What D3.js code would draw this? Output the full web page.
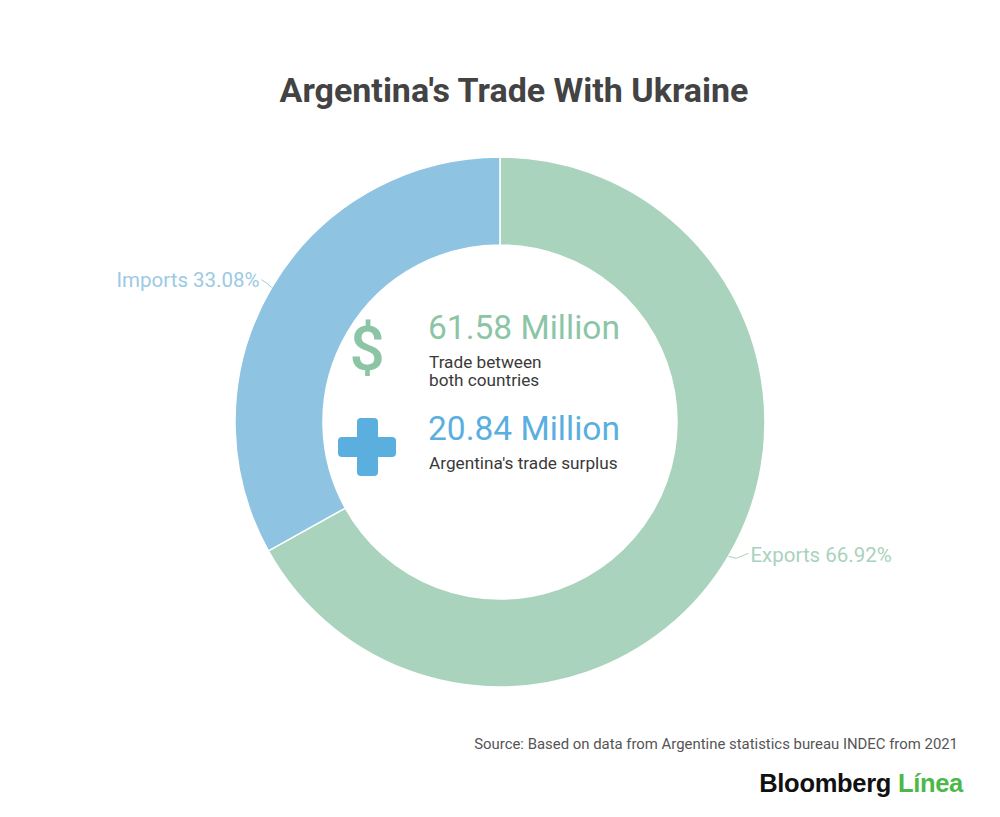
<!DOCTYPE html>
<meta charset="utf-8">
<head>
<script src="https://d3js.org/d3.v7.min.js"></script>
<style>
  body { margin: 0; background: #fff; }
  text { font-family: Roboto, "Noto Sans", sans-serif; }
</style>
</head>
<body>
<div id="donut"></div>
<script>
// data
var categories = ["Exports", "Imports"];
var shares = [66.92, 33.08];
var sliceColors = ["#a9d3bc", "#8ec4e2"];
var labelColors = ["#a9d2bd", "#9ccae3"];

var statValues = ["61.58 Million", "20.84 Million"];
var statNotes = [["Trade between", "both countries"], ["Argentina's trade surplus"]];

var width = 1000, height = 817;
var cx = 500, cy = 422,
    outerR = 265, innerR = 177;

var svg = d3.select("#donut")
  .append("svg")
    .attr("width", width)
    .attr("height", height);

// title
svg.append("text")
  .attr("x", 514)
  .attr("y", 102)
  .attr("text-anchor", "middle")
  .style("font-size", "34px")
  .style("font-weight", "700")
  .style("fill", "#434343")
  .text("Argentina's Trade With Ukraine");

var g = svg.append("g")
  .attr("transform", "translate(" + cx + "," + cy + ")");

var data = categories.map(function(c, i) { return {name: c, value: shares[i], i: i}; });

var pie = d3.pie()
  .sort(null)
  .value(function(d) { return d.value; });

var arc = d3.arc()
  .innerRadius(innerR)
  .outerRadius(outerR);

var rim = d3.arc()
  .innerRadius(outerR)
  .outerRadius(outerR);

var slices = pie(data);

g.selectAll("path.slice")
  .data(slices)
  .enter()
  .append("path")
    .attr("class", "slice")
    .attr("d", arc)
    .attr("fill", function(d) { return sliceColors[d.data.i]; })
    .attr("stroke", "#fff")
    .attr("stroke-width", 1.5);

// outside labels with short leader lines
slices.forEach(function(d) {
  var p = rim.centroid(d);
  var right = p[0] > 0;
  var col = labelColors[d.data.i];
  var x1 = p[0] + (right ? 8 : -4), y1 = p[1] + (right ? 2 : -4);
  var x2 = p[0] + (right ? 20 : -10), y2 = p[1] + (right ? -3 : -8);
  g.append("polyline")
    .attr("points", [p, [x1, y1], [x2, y2]].map(function(q) { return q.join(","); }).join(" "))
    .attr("fill", "none")
    .attr("stroke", col)
    .attr("stroke-width", 1);
  g.append("text")
    .attr("x", x2 + (right ? 2 : -2))
    .attr("y", y2 + (right ? 9 : 7))
    .attr("text-anchor", right ? "start" : "end")
    .style("font-size", "20.5px")
    .style("fill", col)
    .text(d.data.name + " " + d3.format(".2f")(d.data.value) + "%");
});

// centre stats
var statColors = ["#8cc5a6", "#5aafdf"];
var statY = [339, 440];

svg.append("text")
  .attr("x", 367)
  .attr("y", 370)
  .attr("text-anchor", "middle")
  .style("font-size", "62px")
  .style("font-weight", "500")
  .style("fill", statColors[0])
  .text("$");

// plus icon
var plus = svg.append("g").attr("fill", statColors[1]);
plus.append("rect").attr("x", 357).attr("y", 418).attr("width", 21).attr("height", 58).attr("rx", 4);
plus.append("rect").attr("x", 338).attr("y", 437).attr("width", 58).attr("height", 20).attr("rx", 4);

statValues.forEach(function(v, i) {
  svg.append("text")
    .attr("x", 428)
    .attr("y", statY[i])
    .style("font-size", "33.5px")
    .style("fill", statColors[i])
    .text(v);
  statNotes[i].forEach(function(line, j) {
    svg.append("text")
      .attr("x", 429)
      .attr("y", statY[i] + 29 + j * 18)
      .style("font-size", "17.2px")
      .style("fill", "#3a3a3a")
      .text(line);
  });
});

// source and logo
svg.append("text")
  .attr("x", 958)
  .attr("y", 749)
  .attr("text-anchor", "end")
  .style("font-size", "14.9px")
  .style("fill", "#555")
  .text("Source: Based on data from Argentine statistics bureau INDEC from 2021");

var logo = svg.append("text")
  .attr("x", 963)
  .attr("y", 792)
  .attr("text-anchor", "end")
  .style("font-family", "'Liberation Sans', Arial, sans-serif")
  .style("font-size", "25.5px")
  .style("font-weight", "700")
  .style("letter-spacing", "-0.3px");
logo.append("tspan").style("fill", "#111").text("Bloomberg ");
logo.append("tspan").style("fill", "#4cb848").text("Línea");
</script>
</body>
